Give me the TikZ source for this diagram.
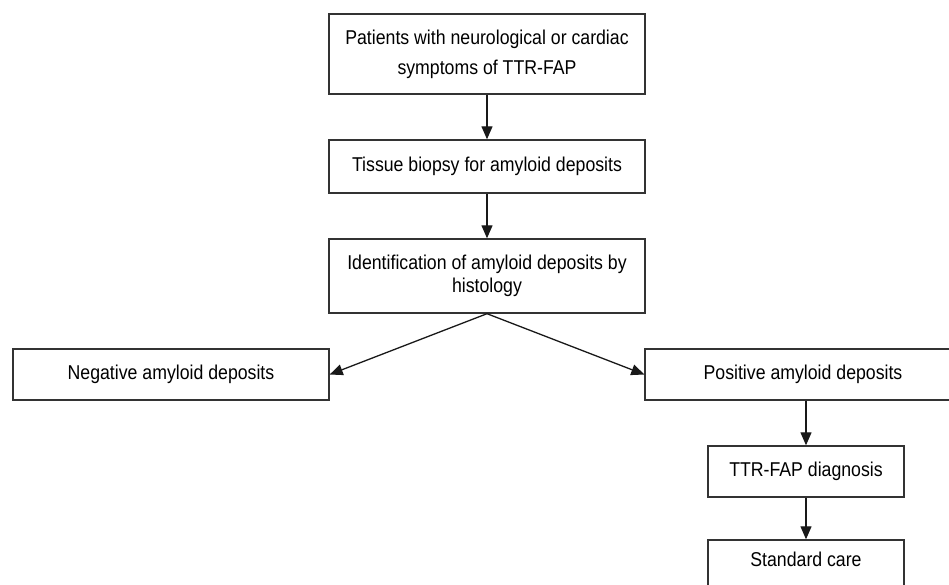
\documentclass[tikz,border=0pt]{standalone}
\usepackage{fontspec}
\setmainfont[FakeStretch=0.885]{Liberation Sans}
\usetikzlibrary{arrows.meta}
\begin{document}
\begin{tikzpicture}[x=1pt,y=-1pt,
  box/.style={draw=black!80,line width=1.4pt,minimum width=316pt,inner sep=0pt,align=center,font=\fontsize{20}{23}\selectfont},
  arr/.style={draw=black!90,line width=1.3pt,-{Triangle[length=13pt,width=11pt]}}]
\useasboundingbox (0,0) rectangle (949,585);
\clip (0,0) rectangle (949,585);
\node[box,minimum height=80pt,font=\fontsize{20}{30}\selectfont] (b1) at (487,54) {Patients with neurological or cardiac\\symptoms of TTR-FAP};
\node[box,minimum height=53pt] (b2) at (487,166.5) {Tissue biopsy for amyloid deposits};
\node[box,minimum height=74pt] (b3) at (487,276) {Identification of amyloid deposits by\\histology};
\node[box,minimum height=51pt] (b4) at (171,374.5) {Negative amyloid deposits};
\node[box,minimum height=51pt] (b5) at (803,374.5) {Positive amyloid deposits};
\node[box,minimum height=51pt,minimum width=196pt] (b6) at (806,471.5) {TTR-FAP diagnosis};
\node[box,minimum height=51pt,minimum width=196pt,text depth=12pt] (b7) at (806,565.5) {Standard care};
\draw[arr] (b1) -- (b2);
\draw[arr] (b2) -- (b3);
\draw[arr] (b3.south) -- (b4.east);
\draw[arr] (b3.south) -- (b5.west);
\draw[arr] (b5.south -| b6) -- (b6);
\draw[arr] (b6) -- (b7);
\end{tikzpicture}
\end{document}
